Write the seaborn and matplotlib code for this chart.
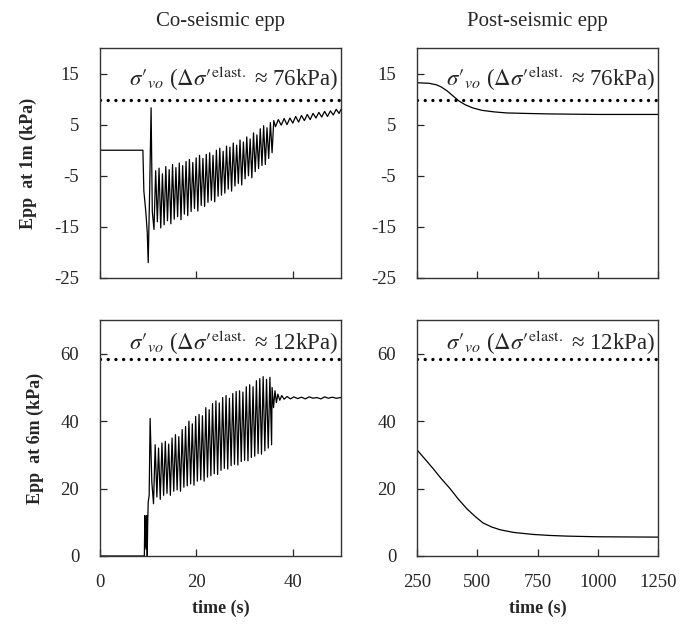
import numpy as np
import pandas as pd
import matplotlib
matplotlib.use("Agg")
import matplotlib.pyplot as plt
import seaborn as sns

# ---------------- data ----------------
# Co-seismic, 1 m depth
co1_start_t = [0.0, 8.9, 9.1, 9.5, 9.8, 10.0, 10.3, 10.6, 10.85]
co1_start_v = [0.0, 0.0, -8.0, -12.0, -16.0, -22.0, -8.0, 8.3, -12.0]
co1_low_t = [11.2, 11.9, 12.6, 13.3, 14.0, 14.7, 15.4, 16.1, 16.8, 17.5, 18.2, 18.9,
             19.6, 20.3, 21.0, 21.7, 22.4, 23.1, 23.8, 24.5, 25.2, 25.9, 26.6, 27.3,
             28.0, 28.7, 29.4, 30.1, 30.8, 31.5, 32.2, 32.9, 33.6, 34.3, 35.0, 35.7]
co1_low_v = [-15.5, -14.0, -15.2, -14.6, -13.8, -14.4, -13.5, -13.0, -13.6, -12.5, -12.8, -12.0,
             -11.4, -11.9, -10.8, -11.0, -10.2, -9.8, -10.1, -9.0, -8.8, -8.4, -7.6, -8.0,
             -7.0, -6.5, -6.8, -5.6, -5.0, -5.4, -4.2, -3.6, -3.0, -2.8, -1.6, -0.5]
co1_high_t = [11.55, 12.25, 12.95, 13.65, 14.35, 15.05, 15.75, 16.45, 17.15, 17.85, 18.55, 19.25,
              19.95, 20.65, 21.35, 22.05, 22.75, 23.45, 24.15, 24.85, 25.55, 26.25, 26.95, 27.65,
              28.35, 29.05, 29.75, 30.45, 31.15, 31.85, 32.55, 33.25, 33.95, 34.65, 35.35, 36.05]
co1_high_v = [-4.0, -3.5, -4.6, -3.2, -3.8, -2.8, -3.4, -2.5, -3.0, -2.2, -1.8, -2.4,
              -1.5, -1.0, -1.6, -0.8, -0.5, -1.0, 0.0, 0.4, -0.2, 0.8, 0.6, 1.4,
              1.0, 2.0, 1.6, 2.6, 2.2, 3.4, 3.0, 4.2, 4.8, 4.4, 5.4, 5.8]
co1_tail_t = [36.4, 37.0, 37.6, 38.2, 38.8, 39.4, 40.0, 40.6, 41.2, 41.8, 42.4, 43.0,
              43.6, 44.2, 44.8, 45.4, 46.0, 46.6, 47.2, 47.8, 48.4, 49.0, 49.6, 50.0]
co1_tail_v = [4.6, 6.0, 4.9, 6.2, 5.0, 6.3, 5.3, 6.6, 5.5, 6.8, 5.8, 7.0,
              6.0, 7.2, 6.3, 7.4, 6.5, 7.6, 6.6, 7.7, 6.9, 8.0, 7.2, 8.0]

# Co-seismic, 6 m depth
co6_start_t = [0.0, 9.2, 9.3, 9.4, 9.5, 9.6, 9.7, 9.8, 9.9, 10.0, 10.2, 10.4, 10.75]
co6_start_v = [0.0, 0.0, 12.0, 3.0, 11.0, 2.0, 12.0, 0.0, 10.0, 16.0, 18.0, 40.8, 22.0]
co6_low_t = [11.1, 11.8, 12.5, 13.2, 13.9, 14.6, 15.3, 16.0, 16.7, 17.4, 18.1, 18.8,
             19.5, 20.2, 20.9, 21.6, 22.3, 23.0, 23.7, 24.4, 25.1, 25.8, 26.5, 27.2,
             27.9, 28.6, 29.3, 30.0, 30.7, 31.4, 32.1, 32.8, 33.5, 34.2, 34.9, 35.6]
co6_low_v = [15.5, 17.5, 16.8, 18.0, 18.6, 18.0, 19.2, 19.6, 19.2, 20.4, 20.8, 21.4,
             21.0, 22.2, 22.6, 22.2, 23.4, 23.8, 24.4, 24.2, 25.4, 26.0, 25.8, 26.8,
             27.2, 27.0, 28.0, 28.4, 28.2, 29.2, 29.6, 30.4, 30.2, 31.2, 32.0, 33.0]
co6_high_t = [11.45, 12.15, 12.85, 13.55, 14.25, 14.95, 15.65, 16.35, 17.05, 17.75, 18.45, 19.15,
              19.85, 20.55, 21.25, 21.95, 22.65, 23.35, 24.05, 24.75, 25.45, 26.15, 26.85, 27.55,
              28.25, 28.95, 29.65, 30.35, 31.05, 31.75, 32.45, 33.15, 33.85, 34.55, 35.25, 35.7]
co6_high_v = [33.0, 32.0, 33.5, 34.0, 33.2, 35.0, 36.0, 35.4, 37.5, 38.4, 40.0, 39.2,
              41.4, 42.0, 41.6, 44.0, 43.4, 45.2, 46.0, 45.4, 47.0, 47.6, 46.8, 48.2,
              48.8, 49.0, 48.6, 50.2, 50.8, 50.2, 52.0, 52.6, 53.2, 52.4, 53.0, 50.0]
co6_tail_t = [36.0, 36.3, 36.6, 36.9, 37.3, 37.7, 38.2, 38.8, 39.5, 40.2, 41.0, 41.8,
              42.6, 43.4, 44.2, 45.0, 45.8, 46.6, 47.4, 48.2, 49.0, 50.0]
co6_tail_v = [44.0, 49.0, 45.5, 48.0, 46.2, 47.6, 46.5, 47.3, 46.6, 47.2, 46.7, 47.1,
              46.6, 47.2, 46.8, 47.0, 46.6, 47.2, 46.8, 47.1, 46.8, 47.0]

# Post-seismic
post1_t = [250, 300, 330, 350, 375, 400, 425, 450, 480, 520, 570, 620, 700, 800, 1000, 1250]
post1_v = [13.2, 13.1, 12.8, 12.4, 11.6, 10.6, 9.6, 8.9, 8.3, 7.8, 7.5, 7.3, 7.2, 7.1, 7.0, 7.0]
post6_t = [250, 280, 316, 350, 387, 420, 457, 490, 524, 560, 594, 650, 731, 800, 871, 1000, 1250]
post6_v = [31.5, 29.0, 26.0, 23.0, 20.0, 17.0, 14.0, 11.8, 9.8, 8.6, 7.8, 7.0, 6.4, 6.1, 5.9, 5.7, 5.6]

# Reference levels (sigma'_vo)
sigma_1m = 9.8
sigma_6m = 58.5
label_1m = r"$\sigma\prime_{vo}$ ($\Delta\sigma\prime^{\mathrm{elast.}}$ ≈ 76kPa)"
label_6m = r"$\sigma\prime_{vo}$ ($\Delta\sigma\prime^{\mathrm{elast.}}$ ≈ 12kPa)"

col_titles = ["Co-seismic epp", "Post-seismic epp"]
row_labels = ["Epp  at 1m (kPa)", "Epp  at 6m (kPa)"]
xlabel = "time (s)"
yticks_1m = [-25, -15, -5, 5, 15]
yticks_6m = [0, 20, 40, 60]
xticks_co = [0, 20, 40]
xticks_post = [250, 500, 750, 1000, 1250]


def interleave(lt, lv, ht, hv):
    pts = sorted(list(zip(lt, lv)) + list(zip(ht, hv)))
    return [p[0] for p in pts], [p[1] for p in pts]


def build(start_t, start_v, lt, lv, ht, hv, tail_t, tail_v):
    mt, mv = interleave(lt, lv, ht, hv)
    return pd.DataFrame({"t": start_t + mt + tail_t, "v": start_v + mv + tail_v})


df_co1 = build(co1_start_t, co1_start_v, co1_low_t, co1_low_v, co1_high_t, co1_high_v, co1_tail_t, co1_tail_v)
df_co6 = build(co6_start_t, co6_start_v, co6_low_t, co6_low_v, co6_high_t, co6_high_v, co6_tail_t, co6_tail_v)
df_p1 = pd.DataFrame({"t": post1_t, "v": post1_v})
df_p6 = pd.DataFrame({"t": post6_t, "v": post6_v})

# ---------------- style ----------------
sns.set_style("white")
plt.rcParams["font.family"] = ["Liberation Serif", "DejaVu Serif"]
plt.rcParams["mathtext.fontset"] = "stix"
plt.rcParams["axes.unicode_minus"] = False

fig = plt.figure(figsize=(6.96, 6.26), dpi=100)
W, H = 696, 626


def ax_at(x0, y0, x1, y1):
    return fig.add_axes([x0 / W, 1 - y1 / H, (x1 - x0) / W, (y1 - y0) / H])


ax11 = ax_at(100, 48, 341, 278)
ax12 = ax_at(417, 48, 658, 278)
ax21 = ax_at(100, 320, 341, 556)
ax22 = ax_at(417, 320, 658, 556)

panels = [
    (ax11, df_co1, (0, 50), (-25, 20), sigma_1m, label_1m, xticks_co, yticks_1m),
    (ax12, df_p1, (250, 1250), (-25, 20), sigma_1m, label_1m, xticks_post, yticks_1m),
    (ax21, df_co6, (0, 50), (0, 70), sigma_6m, label_6m, xticks_co, yticks_6m),
    (ax22, df_p6, (250, 1250), (0, 70), sigma_6m, label_6m, xticks_post, yticks_6m),
]

for i, (ax, df, xl, yl, sig, lab, xt, yt) in enumerate(panels):
    sns.lineplot(data=df, x="t", y="v", ax=ax, color="black", linewidth=0.9,
                 sort=False, estimator=None)
    ax.axhline(sig, color="black", linewidth=2.4, linestyle=(0, (0.01, 2.3)),
               dash_capstyle="round")
    ax.set_xlim(*xl)
    ax.set_ylim(*yl)
    ax.set_xticks(xt)
    ax.set_yticks(yt)
    ax.tick_params(direction="in", length=5, width=0.9, labelsize=13.5,
                   bottom=True, left=True)
    ax.tick_params(axis="y", pad=15)
    ax.tick_params(axis="x", pad=13)
    for s in ax.spines.values():
        s.set_color("#333333")
        s.set_linewidth(1.0)
    ax.set_xlabel("")
    ax.set_ylabel("")
    ax.text(0.99, 0.865 if i < 2 else 0.905, lab, transform=ax.transAxes,
            ha="right", va="center", fontsize=16.5)
    if i < 2:
        ax.set_xticklabels([])
        ax.set_title(col_titles[i], fontsize=15, pad=16)
    else:
        ax.set_xlabel(xlabel, fontsize=13, fontweight="bold", labelpad=6)

ax11.set_ylabel(row_labels[0], fontsize=13, fontweight="bold", labelpad=12)
ax21.set_ylabel(row_labels[1], fontsize=13, fontweight="bold", labelpad=12)

fig.savefig("out.png", dpi=100)
